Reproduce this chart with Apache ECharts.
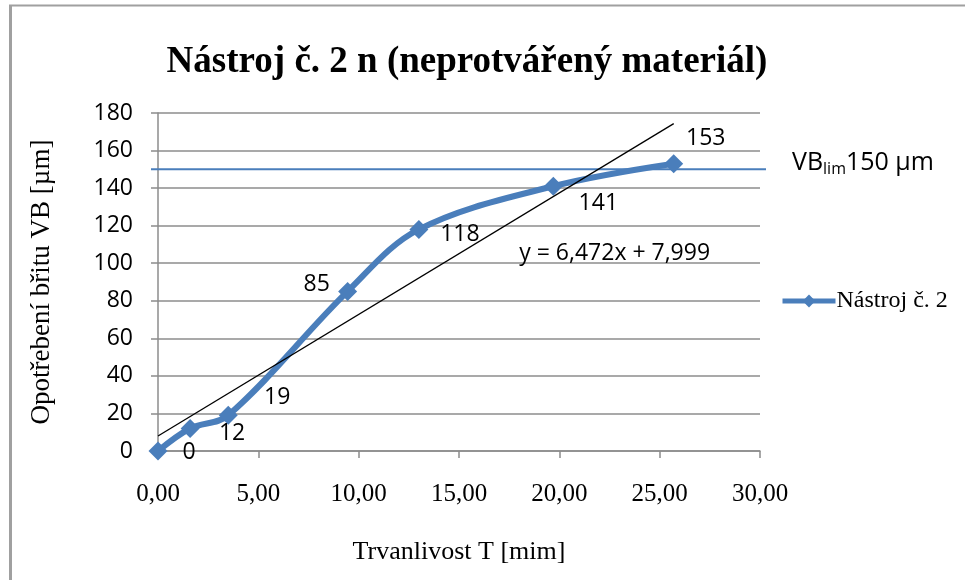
<!DOCTYPE html>
<html>
<head>
<meta charset="utf-8">
<script src="https://cdn.jsdelivr.net/npm/echarts@6/dist/echarts.min.js"></script>
<style>
  html, body { margin: 0; padding: 0; background: #fff; }
  #chart { width: 965px; height: 580px; }
</style>
</head>
<body>
<div id="chart"></div>
<script>
// Tool life T [min] and measured flank wear VB [µm]
var timeValues = [0, 1.6, 3.5, 9.45, 13, 19.7, 25.7];
var wearValues = [0, 12, 19, 85, 118, 141, 153];

// Linear trend of the wear curve
var trendSlope = 6.472;
var trendIntercept = 7.999;
var trendText = 'y = 6,472x + 7,999';

// Wear limit
var vbLimit = 150;

// Axis ticks
var xTicks = [0, 5, 10, 15, 20, 25, 30];
var yTicks = [0, 20, 40, 60, 80, 100, 120, 140, 160, 180];

// Hand-placed data label offsets (label centre relative to the point)
var labelOffsets = [[31, 1], [42, 5], [49, -18], [-31, -7], [41, 5], [45, 17], [32, -25]];

var BLUE = '#4A7EBB';
var GRID_GRAY = '#8C8C8C';
var SERIF = '"Liberation Serif", "Times New Roman", serif';
var SANS = '"Open Sans", "Noto Sans", sans-serif';

var seriesData = timeValues.map(function (t, i) {
  return {
    value: [t, wearValues[i]],
    label: { offset: labelOffsets[i] }
  };
});

var tMax = Math.max.apply(null, timeValues);
var trendData = [
  [0, trendIntercept],
  [tMax, trendSlope * tMax + trendIntercept]
];

var chart = echarts.init(document.getElementById('chart'), null, { renderer: 'canvas' });

var option = {
  backgroundColor: '#fff',
  animation: false,
  title: {
    text: 'Nástroj č. 2 n (neprotvářený materiál)',
    left: 462,
    textAlign: 'center',
    top: 39,
    textStyle: { fontFamily: SERIF, fontWeight: 'bold', fontSize: 37, color: '#000' }
  },
  grid: { left: 158, right: 205, top: 113, bottom: 129, containLabel: false },
  legend: {
    left: 775,
    top: 284,
    itemWidth: 53,
    itemHeight: 16,
    itemGap: 2,
    data: [{
      name: 'Nástroj č. 2',
      itemStyle: { color: BLUE },
      lineStyle: { color: BLUE, width: 5 }
    }],
    textStyle: { fontFamily: SERIF, fontSize: 24, color: '#000', padding: [0, 0, 0, -4] }
  },
  xAxis: {
    type: 'value',
    min: xTicks[0],
    max: xTicks[xTicks.length - 1],
    interval: xTicks[1] - xTicks[0],
    name: 'Trvanlivost T [mim]',
    nameLocation: 'middle',
    nameGap: 88,
    nameTextStyle: { fontFamily: SERIF, fontSize: 26, color: '#000' },
    axisLine: { show: true, onZero: false, lineStyle: { color: GRID_GRAY, width: 1.5 } },
    axisTick: { show: true, inside: false, length: 7, lineStyle: { color: GRID_GRAY, width: 1.5 } },
    axisLabel: {
      margin: 31,
      fontFamily: SERIF,
      fontSize: 25,
      color: '#000',
      formatter: function (v) { return v.toFixed(2).replace('.', ','); }
    },
    splitLine: { show: false }
  },
  yAxis: {
    type: 'value',
    min: yTicks[0],
    max: yTicks[yTicks.length - 1],
    interval: yTicks[1] - yTicks[0],
    name: 'Opotřebení břitu VB [µm]',
    nameLocation: 'middle',
    nameGap: 103,
    nameRotate: 90,
    nameTextStyle: { fontFamily: SERIF, fontSize: 27, color: '#000' },
    axisLine: { show: true, lineStyle: { color: GRID_GRAY, width: 1.5 } },
    axisTick: { show: true, inside: false, length: 7, lineStyle: { color: GRID_GRAY, width: 1.5 } },
    axisLabel: { margin: 25, fontFamily: SANS, fontSize: 23, color: '#000' },
    splitLine: { show: true, lineStyle: { color: GRID_GRAY, width: 1.5 } }
  },
  series: [
    {
      name: 'Nástroj č. 2',
      type: 'line',
      data: seriesData,
      smooth: 0.35,
      symbol: 'diamond',
      symbolSize: 19,
      color: BLUE,
      lineStyle: { color: BLUE, width: 6 },
      itemStyle: { color: BLUE },
      label: {
        show: true,
        position: 'inside',
        fontFamily: SANS,
        fontSize: 23,
        color: '#000',
        formatter: function (p) { return String(p.value[1]); }
      },
      z: 3
    },
    {
      name: 'trend',
      type: 'line',
      data: trendData,
      symbol: 'none',
      lineStyle: { color: '#000', width: 1.3 },
      silent: true,
      z: 4
    }
  ]
};

chart.setOption(option);

// Wear-limit line, equation text and frame are placed from the axes' own scales
function placeOverlays() {
  var yLim = chart.convertToPixel({ gridIndex: 0 }, [0, vbLimit])[1];
  var x0 = chart.convertToPixel({ gridIndex: 0 }, [xTicks[0], 0])[0];
  var x1 = chart.convertToPixel({ gridIndex: 0 }, [xTicks[xTicks.length - 1], 0])[0];
  var eqY = chart.convertToPixel({ gridIndex: 0 }, [0, 111])[1];
  var eqX = chart.convertToPixel({ gridIndex: 0 }, [18.0, 0])[0];

  chart.setOption({
    graphic: [
      {
        type: 'line',
        shape: { x1: x0 - 7, y1: yLim, x2: x1 + 6, y2: yLim },
        style: { stroke: BLUE, lineWidth: 2 },
        z: 2
      },
      {
        type: 'text',
        left: 792,
        top: yLim - 19,
        style: {
          text: '{a|VB}{s|lim}{a|150 µm}',
          rich: {
            a: { fontFamily: SANS, fontSize: 25, fill: '#000' },
            s: { fontFamily: SANS, fontSize: 16, fill: '#000', verticalAlign: 'bottom', padding: [13, 0, 0, 0] }
          }
        }
      },
      {
        type: 'text',
        left: eqX,
        top: eqY - 1,
        style: { text: trendText, fontFamily: SANS, fontSize: 23, fill: '#000' }
      },
      {
        type: 'line',
        shape: { x1: 10.5, y1: 5, x2: 10.5, y2: 580 },
        style: { stroke: '#A0A0A0', lineWidth: 3 }
      },
      {
        type: 'line',
        shape: { x1: 9, y1: 5.5, x2: 965, y2: 5.5 },
        style: { stroke: '#A0A0A0', lineWidth: 2 }
      }
    ]
  });
}
placeOverlays();
</script>
</body>
</html>
